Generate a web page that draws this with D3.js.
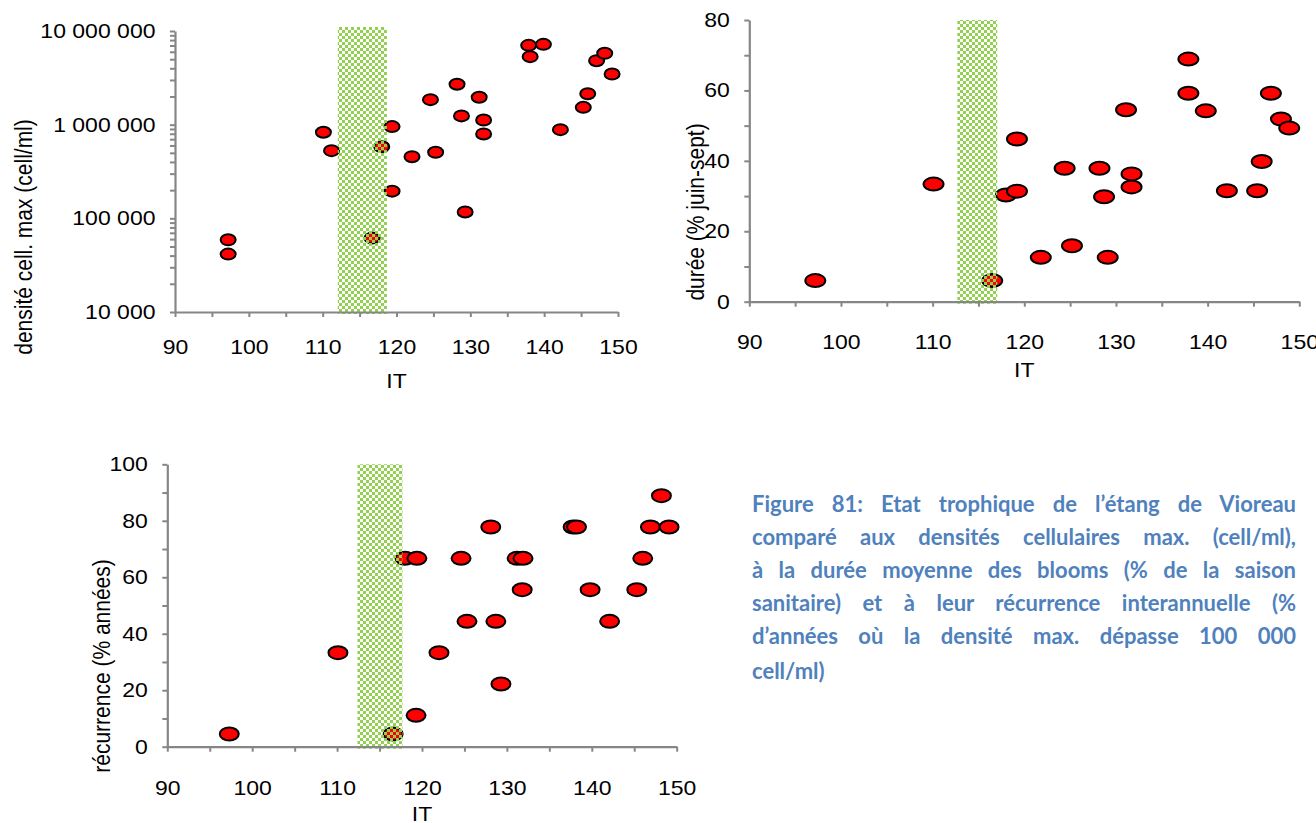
<!DOCTYPE html>
<html><head><meta charset="utf-8">
<script src="https://cdn.jsdelivr.net/npm/d3@7"></script>
<style>
body{margin:0;background:#fff;}
#wrap{position:relative;width:1316px;height:823px;overflow:hidden;}
#caption{position:absolute;left:752px;top:487px;width:544px;font-family:Lato,"Open Sans",sans-serif;font-weight:700;font-size:22px;color:#4f81bd;line-height:33px;}
#caption div{text-align:justify;text-align-last:justify;white-space:nowrap;}
#caption div.last{text-align-last:left;margin-top:2px;}
</style></head>
<body><div id="wrap"><svg id="svg" width="1316" height="823"></svg><div id="caption"></div></div>
<script>
// ---- data ----
const xTicks = [90,95,100,105,110,115,120,125,130,135,140,145,150];
const densiteIT  = [97.2,97.2,110.1,111.2,116.7,118.0,119.4,119.4,122.1,124.6,125.3,128.2,128.8,129.3,131.2,131.8,131.8,137.9,138.1,139.9,142.2,145.3,145.9,147.1,148.2,149.2];
const densiteVal = [59000,41500,830000,528000,61500,582000,953000,195000,455000,1850000,507000,2700000,1240000,117000,1960000,1120000,796000,7030000,5320000,7200000,885000,1530000,2140000,4820000,5780000,3470000];
const densiteTicks = [10000,100000,1000000,10000000];
const dureeIT  = [97.2,110.1,116.5,118.0,119.2,119.2,121.8,124.4,125.2,128.2,128.7,129.1,131.1,131.7,131.7,137.9,137.9,139.8,142.1,145.4,145.9,146.9,148.0,148.9];
const dureeVal = [6.0,33.4,6.0,30.3,31.4,46.2,12.6,37.9,15.9,37.9,29.8,12.6,54.5,36.3,32.6,68.9,59.2,54.2,31.5,31.5,39.8,59.2,51.9,49.3];
const dureeTicks = [0,10,20,30,40,50,60,70,80];
const recIT  = [97.3,110.1,116.6,118.0,119.4,119.3,122.0,124.6,125.3,128.1,128.7,129.3,131.2,131.9,131.8,137.8,138.2,139.8,142.1,145.3,146.0,146.9,148.2,149.1];
const recVal = [4.5,33.3,4.5,66.7,66.7,11.1,33.3,66.7,44.4,77.8,44.4,22.2,66.7,66.7,55.6,77.8,77.8,55.6,44.4,55.6,66.7,77.8,88.9,77.8];
const recTicks = [0,10,20,30,40,50,60,70,80,90,100];
const bandDensite = [112.05,118.7];
const bandDuree = [112.7,117.05];
const bandRec = [112.4,117.7];
const captionLines = [
 "Figure 81: Etat trophique de l’étang de Vioreau",
 "comparé aux densités cellulaires max. (cell/ml),",
 "à la durée moyenne des blooms (% de la saison",
 "sanitaire) et à leur récurrence interannuelle (%",
 "d’années où la densité max. dépasse 100 000",
 "cell/ml)"
];

const svg = d3.select("#svg");
const defs = svg.append("defs");
const pat = defs.append("pattern").attr("id","chk").attr("patternUnits","userSpaceOnUse")
  .attr("width",6).attr("height",6);
pat.append("rect").attr("x",0).attr("y",0).attr("width",3).attr("height",3).attr("fill","#92d050");
pat.append("rect").attr("x",3).attr("y",3).attr("width",3).attr("height",3).attr("fill","#92d050");

const FONT = "'Liberation Sans', Arial, sans-serif";
const SX = 1.15;
const spaceFmt = v => d3.format(",")(v).replace(/,/g," ");

function chart(o){
  const g = svg.append("g");
  const x = d3.scaleLinear().domain([90,150]).range(o.xr);
  const y = (o.log ? d3.scaleLog() : d3.scaleLinear()).domain(o.yd).range(o.yr);
  // points
  g.selectAll("ellipse.pt").data(o.xs.map((v,i)=>[v,o.ys[i]])).join("ellipse")
    .attr("class","pt")
    .attr("cx",d=>x(d[0])).attr("cy",d=>y(d[1]))
    .attr("rx",o.rx).attr("ry",o.ry)
    .attr("fill","#ff0000").attr("stroke","#000").attr("stroke-width",2);
  // band (over the points, like the original)
  g.append("rect")
    .attr("x",x(o.band[0])).attr("width",x(o.band[1])-x(o.band[0]))
    .attr("y",o.yr[1]-o.bandTop).attr("height",o.yr[0]-o.yr[1]+o.bandTop+2)
    .attr("fill","url(#chk)");
  // x axis
  const xa = g.append("g").attr("transform",`translate(0,${o.yr[0]})`)
    .call(d3.axisBottom(x).tickValues(xTicks).tickSize(5).tickSizeOuter(0).tickPadding(o.xpad)
      .tickFormat(d=> d%10===0 ? d : ""));
  // y axis
  const yAxis = d3.axisLeft(y).tickSize(5).tickSizeOuter(0).tickPadding(12);
  if(o.log){
    const all=[]; for(let e=4;e<7;e++) for(let m=1;m<10;m++) all.push(m*Math.pow(10,e)); all.push(1e7);
    yAxis.tickValues(all).tickFormat(d=> o.yTicks.includes(d) ? spaceFmt(d) : "");
  } else {
    yAxis.tickValues(o.yTicks).tickFormat(d=> d%20===0 ? d : "");
  }
  const ya = g.append("g").attr("transform",`translate(${o.xr[0]},0)`).call(yAxis);
  [xa,ya].forEach(a=>{
    a.select(".domain").attr("stroke","#868686").attr("stroke-width",2.2);
    a.selectAll(".tick line").attr("stroke","#868686").attr("stroke-width",2);
    a.selectAll("text").attr("font-family",FONT).attr("font-size",20).attr("fill","#000")
      .attr("transform",`scale(${SX},1)`);
  });
  // titles
  g.append("text").attr("x",(o.xr[0]+o.xr[1])/2/SX).attr("y",o.itY)
    .attr("transform",`scale(${SX},1)`)
    .attr("text-anchor","middle").attr("font-family",FONT).attr("font-size",20).text("IT");
  g.append("text").attr("transform",`translate(${o.ytX},${o.ytY}) scale(${SX},1) rotate(-90)`)
    .attr("text-anchor","middle").attr("dy","0.35em").attr("font-family",FONT).attr("font-size",21)
    .text(o.ytitle);
}

chart({xr:[175,618], yr:[312,31], yd:[1e4,1e7], log:true, xs:densiteIT, ys:densiteVal, yTicks:densiteTicks,
  band:bandDensite, bandTop:4, rx:7.5, ry:5.5, xpad:23, itY:388, ytX:24, ytY:237, ytitle:"densité cell. max (cell/ml)"});
chart({xr:[749.3,1299.3], yr:[301.7,20], yd:[0,80], xs:dureeIT, ys:dureeVal, yTicks:dureeTicks,
  band:bandDuree, bandTop:0, rx:10, ry:6.5, xpad:28, itY:377, ytX:696, ytY:212, ytitle:"durée (% juin-sept)"});
chart({xr:[167.3,676.7], yr:[746.7,464.3], yd:[0,100], xs:recIT, ys:recVal, yTicks:recTicks,
  band:bandRec, bandTop:0, rx:9.5, ry:6.5, xpad:29, itY:821, ytX:102, ytY:666, ytitle:"récurrence (% années)"});

d3.select("#caption").selectAll("div").data(captionLines).join("div")
  .attr("class",(d,i)=> i===captionLines.length-1 ? "last" : null)
  .text(d=>d);
</script></body></html>
